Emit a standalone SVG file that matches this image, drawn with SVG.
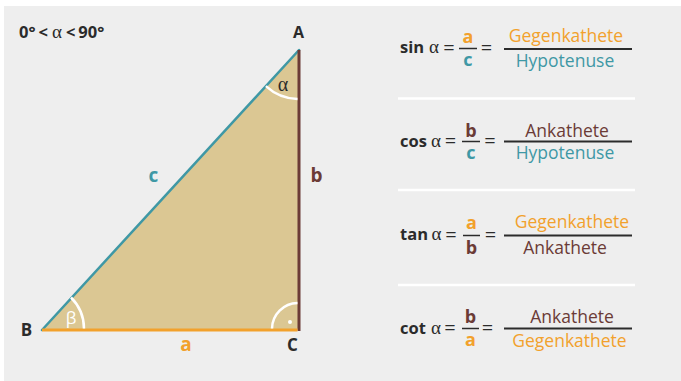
<svg xmlns="http://www.w3.org/2000/svg" width="681" height="381" viewBox="0 0 681 381">
<style>
.sans{font-family:"Open Sans","Noto Sans","Liberation Sans",sans-serif}
.bold{font-family:"Open Sans","Noto Sans","Liberation Sans",sans-serif;font-weight:700}
.greek{font-family:"Liberation Serif","DejaVu Serif",serif}
.dark{fill:#2b2b2b}
.or{fill:#f2a12c}
.te{fill:#3f98a5}
.br{fill:#6b3b36}
.fn{font-size:16.5px}
.fs{font-size:18px}
.fl{font-size:17.5px}
.eq{font-size:20px}
.al{font-size:19px}
.sep{stroke:#ffffff;stroke-width:2.5}
.bar{stroke:#2b2b2b;stroke-width:2}
.sbar{stroke:#2b2b2b;stroke-width:1.5}
.arc{fill:none;stroke:#ffffff;stroke-width:2.5}
</style>
<rect x="4" y="6" width="677" height="375" fill="#eeeeee"/>
<g id="triangle">
<polygon points="42,330 299,330 299,50" fill="#dbc793"/>
</g>
<g id="connectors">
<line x1="42" y1="330" x2="299" y2="50" stroke="#3f98a5" stroke-width="2.5" stroke-linecap="round"/>
<line x1="299" y1="50" x2="299" y2="331" stroke="#6b3b36" stroke-width="3"/>
<line x1="42" y1="330" x2="297.5" y2="330" stroke="#f2a12c" stroke-width="3"/>
</g>
<g id="angle-alpha">
<path class="arc" d="M265.9,86.1 A49,49 0 0 0 297.5,99"/>
<text class="greek dark" x="283" y="91" font-size="20" text-anchor="middle">α</text>
</g>
<g id="angle-beta">
<path class="arc" d="M71,297.5 A44,44 0 0 1 84,328.5"/>
<text class="sans" x="71" y="324" font-size="17" fill="#ffffff" text-anchor="middle">β</text>
</g>
<g id="angle-right">
<path class="arc" d="M272,328.5 A26,26 0 0 1 297.5,303"/>
<circle cx="290" cy="322" r="2" fill="#ffffff"/>
</g>
<g id="vertex-A"><text class="bold dark" x="298.5" y="38" font-size="16" text-anchor="middle">A</text></g>
<g id="vertex-B"><text class="bold dark" x="26.5" y="336" font-size="17" text-anchor="middle">B</text></g>
<g id="vertex-C"><text class="bold dark" x="292.5" y="351" font-size="17" text-anchor="middle">C</text></g>
<g id="side-c"><text class="bold te" x="153.5" y="182" font-size="19" text-anchor="middle">c</text></g>
<g id="side-b"><text class="bold br" x="316.5" y="182" font-size="19" text-anchor="middle">b</text></g>
<g id="side-a"><text class="bold or" x="186" y="351" font-size="19" text-anchor="middle">a</text></g>
<g id="range"><text class="bold dark" x="19" y="37.5" font-size="16.5">0°<tspan dx="3">&lt;</tspan><tspan class="greek" font-weight="400" font-size="19" dx="4">α</tspan><tspan dx="4">&lt;</tspan><tspan dx="3">90°</tspan></text></g>

<g id="separators">
<line class="sep" x1="398" y1="98.5" x2="635" y2="98.5"/>
<line class="sep" x1="398" y1="190" x2="635" y2="190"/>
<line class="sep" x1="398" y1="285" x2="635" y2="285"/>
</g>

<g id="formula-sin">
<text class="bold dark fn" x="400" y="53">sin</text>
<text class="greek dark al" x="429" y="53">α</text>
<text class="sans dark eq" x="449" y="54.5" text-anchor="middle">=</text>
<line class="sbar" x1="459" y1="48.5" x2="477" y2="48.5"/>
<text class="bold or fs" x="468" y="43" text-anchor="middle">a</text>
<text class="bold te fs" x="468" y="65.5" text-anchor="middle">c</text>
<text class="sans dark eq" x="486.5" y="54.5" text-anchor="middle">=</text>
<line class="bar" x1="504" y1="49" x2="632" y2="49"/>
<text class="sans or fl" x="566" y="42" text-anchor="middle">Gegenkathete</text>
<text class="sans te fl" x="565" y="67" text-anchor="middle">Hypotenuse</text>
</g>

<g id="formula-cos">
<text class="bold dark fn" x="400" y="146.5">cos</text>
<text class="greek dark al" x="431" y="146.5">α</text>
<text class="sans dark eq" x="450.5" y="148" text-anchor="middle">=</text>
<line class="sbar" x1="462" y1="141.5" x2="480" y2="141.5"/>
<text class="bold br fs" x="471" y="136.5" text-anchor="middle">b</text>
<text class="bold te fs" x="471" y="158.5" text-anchor="middle">c</text>
<text class="sans dark eq" x="490" y="148" text-anchor="middle">=</text>
<line class="bar" x1="504" y1="141.5" x2="632" y2="141.5"/>
<text class="sans br fl" x="567" y="136.5" text-anchor="middle">Ankathete</text>
<text class="sans te fl" x="565" y="158.5" text-anchor="middle">Hypotenuse</text>
</g>

<g id="formula-tan">
<text class="bold dark fn" x="400" y="240">tan</text>
<text class="greek dark al" x="431.5" y="240">α</text>
<text class="sans dark eq" x="451" y="241.5" text-anchor="middle">=</text>
<line class="sbar" x1="463" y1="235.5" x2="480" y2="235.5"/>
<text class="bold or fs" x="471.5" y="229" text-anchor="middle">a</text>
<text class="bold br fs" x="471.5" y="254" text-anchor="middle">b</text>
<text class="sans dark eq" x="490.5" y="241.5" text-anchor="middle">=</text>
<line class="bar" x1="504" y1="235.5" x2="632" y2="235.5"/>
<text class="sans or fl" x="572" y="227.5" text-anchor="middle">Gegenkathete</text>
<text class="sans br fl" x="565" y="253.5" text-anchor="middle">Ankathete</text>
</g>

<g id="formula-cot">
<text class="bold dark fn" x="400" y="333.5">cot</text>
<text class="greek dark al" x="431" y="333.5">α</text>
<text class="sans dark eq" x="450" y="335" text-anchor="middle">=</text>
<line class="sbar" x1="462" y1="328.5" x2="479" y2="328.5"/>
<text class="bold br fs" x="470.5" y="322.5" text-anchor="middle">b</text>
<text class="bold or fs" x="470.5" y="346" text-anchor="middle">a</text>
<text class="sans dark eq" x="487.5" y="335" text-anchor="middle">=</text>
<line class="bar" x1="504" y1="328.5" x2="632" y2="328.5"/>
<text class="sans br fl" x="572" y="322.5" text-anchor="middle">Ankathete</text>
<text class="sans or fl" x="569.5" y="347" text-anchor="middle">Gegenkathete</text>
</g>
</svg>
